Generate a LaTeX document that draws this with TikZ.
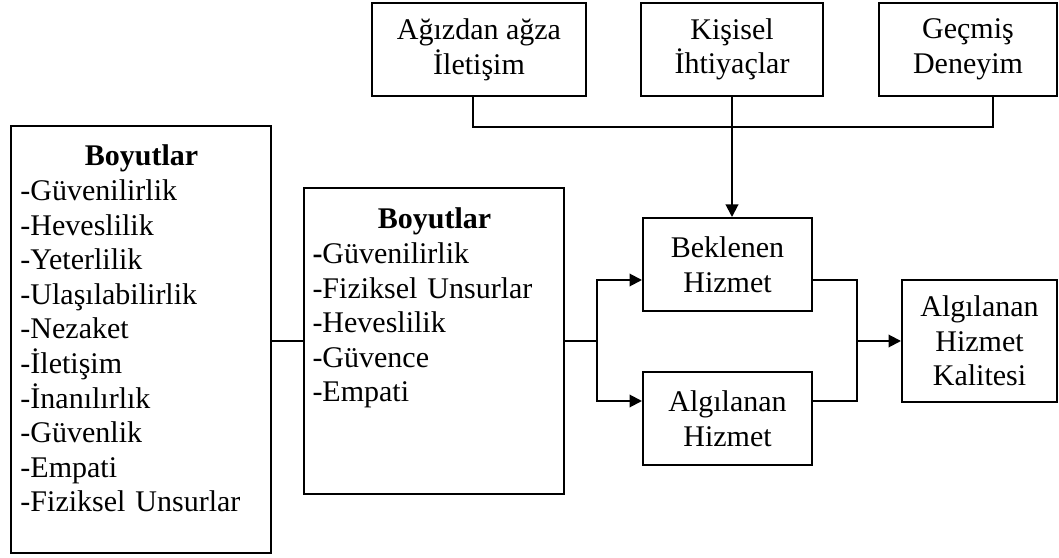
\documentclass[tikz,border=0pt]{standalone}
\usepackage{fontspec}
\setmainfont{Liberation Serif}
\usetikzlibrary{arrows.meta}
\begin{document}
\begin{tikzpicture}[x=0.4pt,y=-0.4pt,
  box/.style={draw,line width=0.8pt,inner sep=0pt,align=center,font=\fontsize{12}{13.84}\selectfont},
  lst/.style={inner sep=0pt,align=left,anchor=north west,font=\fontsize{12}{13.84}\selectfont},
  con/.style={line width=0.8pt},
  arr/.style={con,-{Triangle[length=5pt,width=5pt]}}]
\useasboundingbox (0,0) rectangle (1059,558);
% top boxes
\node[box,minimum width=85.6pt,minimum height=37.2pt] (t1) at (479,49.5) {Ağızdan ağza\\İletişim};
\node[box,minimum width=72.8pt,minimum height=37.2pt] (t2) at (732,49.5) {Kişisel\\İhtiyaçlar};
\node[box,minimum width=71.2pt,minimum height=37.2pt] (t3) at (968,49.5) {Geçmiş\\Deneyim};
% left box
\node[box,minimum width=104pt,minimum height=170.8pt] (L) at (141,339.5) {};
\node[lst,text width=96.8pt] (Lt) at (20,144.5) {\makebox[\hsize]{\textbf{Boyutlar}}\\-Güvenilirlik\\-Heveslilik\\-Yeterlilik\\-Ulaşılabilirlik\\-Nezaket\\-İletişim\\-İnanılırlık\\-Güvenlik\\-Empati\\-Fiziksel Unsurlar};
% middle box
\node[box,minimum width=104pt,minimum height=122.4pt] (M) at (434,341) {};
\node[lst,text width=97.6pt] (Mt) at (312,207.5) {\makebox[\hsize]{\textbf{Boyutlar}}\\\textbf{-}Güvenilirlik\\-Fiziksel Unsurlar\\-Heveslilik\\-Güvence\\-Empati};
% right boxes
\node[box,minimum width=67.6pt,minimum height=37.2pt] (bek) at (727.5,264.5) {Beklenen\\Hizmet};
\node[box,minimum width=67.6pt,minimum height=37.2pt] (alg) at (727.5,418.5) {Algılanan\\Hizmet};
\node[box,minimum width=62pt,minimum height=48.8pt] (kal) at (979.5,341) {Algılanan\\Hizmet\\Kalitesi};
% connectors
\coordinate (j1) at (473,127);
\coordinate (j3) at (993,127);
\draw[con] (t1.south -| j1) -- (j1) -- (j3) -- (t3.south -| j3);
\draw[arr] (t2.south) -- (t2.south |- bek.north);
\draw[con] (M.west) -- (M.west -| L.east);
\coordinate (ba) at (597,280);
\coordinate (bb) at (597,401);
\draw[con] (M.east) -- (M.east -| ba);
\draw[arr] (M.east -| ba) |- (bek.west |- ba);
\draw[arr] (M.east -| ba) |- (alg.west |- bb);
\coordinate (ra) at (857,280);
\coordinate (rb) at (857,401);
\draw[con] (bek.east |- ra) -- (ra) -- (rb) -- (alg.east |- rb);
\draw[arr] (ra |- kal.west) -- (kal.west);
\end{tikzpicture}
\end{document}
